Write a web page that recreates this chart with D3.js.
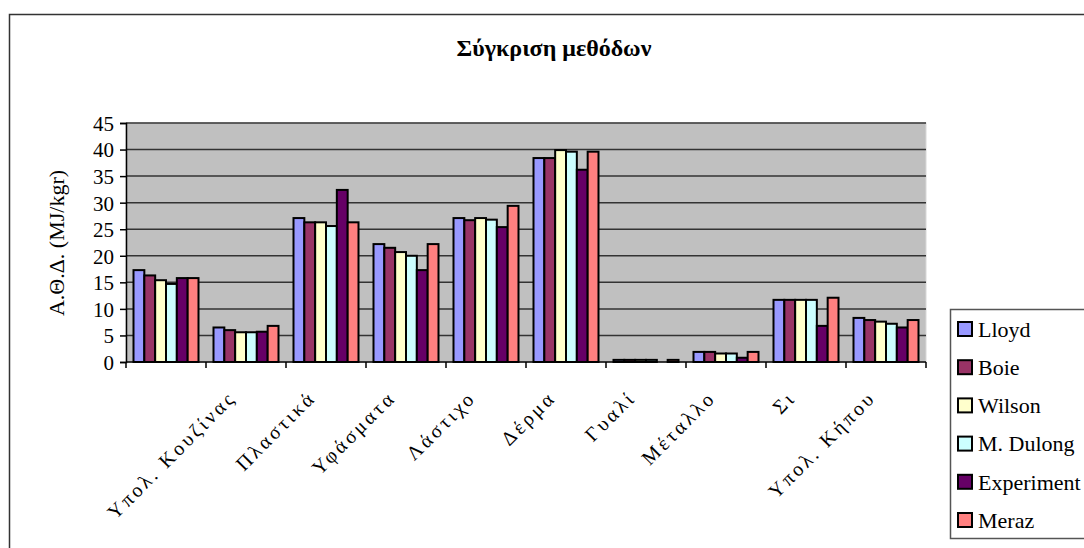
<!DOCTYPE html>
<html>
<head>
<meta charset="utf-8">
<script src="https://cdn.jsdelivr.net/npm/d3@7"></script>
<style>
  body { margin: 0; background: #fff; }
</style>
</head>
<body>
<div id="chart"></div>
<script>
var serif = "'Liberation Serif', 'DejaVu Serif', serif";

// categories (first label is not shown in the original picture)
var categories = ["Χαρτί", "Υπολ. Κουζίνας", "Πλαστικά", "Υφάσματα", "Λάστιχο",
                  "Δέρμα", "Γυαλί", "Μέταλλο", "Σι", "Υπολ. Κήπου"];
var tickLabels = ["", "Υπολ. Κουζίνας", "Πλαστικά", "Υφάσματα", "Λάστιχο",
                  "Δέρμα", "Γυαλί", "Μέταλλο", "Σι", "Υπολ. Κήπου"];

var seriesNames = ["Lloyd", "Boie", "Wilson", "M. Dulong", "Experiment", "Meraz"];
var seriesColors = ["#9999FF", "#993366", "#FFFFCC", "#CCFFFF", "#660066", "#FF8080"];

var lloyd      = [17.3, 6.5, 27.1, 22.2, 27.1, 38.4, 0.4, 1.9, 11.7, 8.3];
var boie       = [16.3, 6.0, 26.3, 21.5, 26.7, 38.4, 0.4, 1.9, 11.7, 7.9];
var wilson     = [15.4, 5.6, 26.3, 20.7, 27.1, 39.9, 0.4, 1.6, 11.7, 7.6];
var dulong     = [14.7, 5.6, 25.6, 20.0, 26.8, 39.6, 0.4, 1.6, 11.7, 7.2];
var experiment = [15.8, 5.7, 32.4, 17.3, 25.4, 36.2, 0.0, 0.8, 6.8, 6.5];
var meraz      = [15.8, 6.8, 26.3, 22.2, 29.4, 39.6, 0.4, 1.9, 12.1, 7.9];

var seriesValues = [lloyd, boie, wilson, dulong, experiment, meraz];

var yTicks = [0, 5, 10, 15, 20, 25, 30, 35, 40, 45];

var width = 1084, height = 548;
// plot area inside the svg
var plot = {left: 126, right: 926, top: 123, bottom: 362};

var svg = d3.select("#chart").append("svg")
                             .attr("width", width)
                             .attr("height", height)
                             .style("font-family", serif);

// outer frame of the chart object
svg.append("rect")
   .attr("x", 9.5)
   .attr("y", 14.5)
   .attr("width", 1200)
   .attr("height", 700)
   .style("fill", "#fff")
   .style("stroke", "#333")
   .style("stroke-width", 1.5);

svg.append("text")
   .text("Σύγκριση μεθόδων")
   .attr("x", 554)
   .attr("y", 56)
   .attr("text-anchor", "middle")
   .style("font-family", serif)
   .style("font-size", "24px")
   .style("font-weight", "bold");

var x0 = d3.scaleBand()
           .domain(categories)
           .range([plot.left, plot.right])
           .paddingInner(0.1875)
           .paddingOuter(0.09375);

var x1 = d3.scaleBand()
           .domain(seriesNames)
           .range([0, x0.bandwidth()]);

var y = d3.scaleLinear()
          .domain([0, 45])
          .range([plot.bottom, plot.top]);

// grey plot background
svg.append("rect")
   .attr("x", plot.left)
   .attr("y", plot.top)
   .attr("width", plot.right - plot.left)
   .attr("height", plot.bottom - plot.top)
   .style("fill", "#C0C0C0")
   .style("stroke", "#d8d8d8")
   .style("stroke-width", 1);

// gridlines
svg.append("g")
   .selectAll("line")
   .data(yTicks.slice(1))
   .join("line")
   .attr("x1", plot.left)
   .attr("x2", plot.right)
   .attr("y1", function(d) { return y(d); })
   .attr("y2", function(d) { return y(d); })
   .style("stroke", "#333")
   .style("stroke-width", 1.5);

// bars
var groups = svg.append("g")
                .selectAll("g")
                .data(seriesNames)
                .join("g")
                .style("fill", function(d, i) { return seriesColors[i]; });

groups.selectAll("rect")
      .data(function(d, i) {
          return seriesValues[i].map(function(v, j) {
              return {series: d, cat: categories[j], value: v};
          });
      })
      .join("rect")
      .filter(function(d) { return d.value > 0; })
      .attr("x", function(d) { return x0(d.cat) + x1(d.series); })
      .attr("y", function(d) { return y(d.value); })
      .attr("width", x1.bandwidth())
      .attr("height", function(d) { return y(0) - y(d.value); })
      .style("stroke", "#000")
      .style("stroke-width", 2);

// y axis
var yAxis = d3.axisLeft(y)
              .tickValues(yTicks)
              .tickSize(6)
              .tickPadding(6);
var yGroup = svg.append("g")
                .attr("transform", "translate(" + plot.left + ",0)")
                .call(yAxis);
yGroup.select(".domain").style("stroke", "#000").style("stroke-width", 1.5);
yGroup.selectAll(".tick line").style("stroke", "#000").style("stroke-width", 1.5);
yGroup.selectAll(".tick text")
      .attr("dy", "0.35em")
      .style("font-family", serif)
      .style("font-size", "21px")
      .style("fill", "#000");

svg.append("text")
   .text("Α.Θ.Δ. (MJ/kgr)")
   .attr("transform", "translate(64,243) rotate(-90)")
   .attr("text-anchor", "middle")
   .style("font-family", serif)
   .style("font-size", "22px");

// x axis line and category ticks
svg.append("line")
   .attr("x1", plot.left)
   .attr("x2", plot.right)
   .attr("y1", plot.bottom)
   .attr("y2", plot.bottom)
   .style("stroke", "#000")
   .style("stroke-width", 1.5);

svg.append("g")
   .selectAll("line")
   .data(categories)
   .join("line")
   .attr("x1", function(d) { return x0(d) - x0.step() * x0.paddingInner() / 2; })
   .attr("x2", function(d) { return x0(d) - x0.step() * x0.paddingInner() / 2; })
   .attr("y1", plot.bottom)
   .attr("y2", plot.bottom + 6)
   .style("stroke", "#000")
   .style("stroke-width", 1.5);
svg.append("line")
   .attr("x1", plot.right)
   .attr("x2", plot.right)
   .attr("y1", plot.bottom)
   .attr("y2", plot.bottom + 6)
   .style("stroke", "#000")
   .style("stroke-width", 1.5);

// rotated category labels, cut off at the top like the original
svg.append("clipPath")
   .attr("id", "labelClip")
   .append("rect")
   .attr("x", 0)
   .attr("y", 389)
   .attr("width", width)
   .attr("height", 200);

svg.append("g")
   .attr("clip-path", "url(#labelClip)")
   .selectAll("text")
   .data(categories)
   .join("text")
   .text(function(d, i) { return tickLabels[i]; })
   .attr("transform", function(d) {
       return "translate(" + (x0(d) + x0.bandwidth() / 2 - 14) + ",394) rotate(-45)";
   })
   .attr("text-anchor", "end")
   .attr("dy", "0.35em")
   .style("font-family", serif)
   .style("font-size", "20px")
   .style("letter-spacing", "3px");

// legend
var legend = svg.append("g");
legend.append("rect")
      .attr("x", 950.5)
      .attr("y", 309.5)
      .attr("width", 200)
      .attr("height", 229)
      .style("fill", "#fff")
      .style("stroke", "#555")
      .style("stroke-width", 1.5);

var items = legend.selectAll("g")
                  .data(seriesNames)
                  .join("g")
                  .attr("transform", function(d, i) {
                      return "translate(958," + (329 + i * 38.2) + ")";
                  });
items.append("rect")
     .attr("x", 0)
     .attr("y", -7)
     .attr("width", 14)
     .attr("height", 14)
     .style("fill", function(d, i) { return seriesColors[i]; })
     .style("stroke", "#000")
     .style("stroke-width", 2);
items.append("text")
     .text(function(d) { return d; })
     .attr("x", 20)
     .attr("dy", "0.35em")
     .style("font-family", serif)
     .style("font-size", "22px");
</script>
</body>
</html>
